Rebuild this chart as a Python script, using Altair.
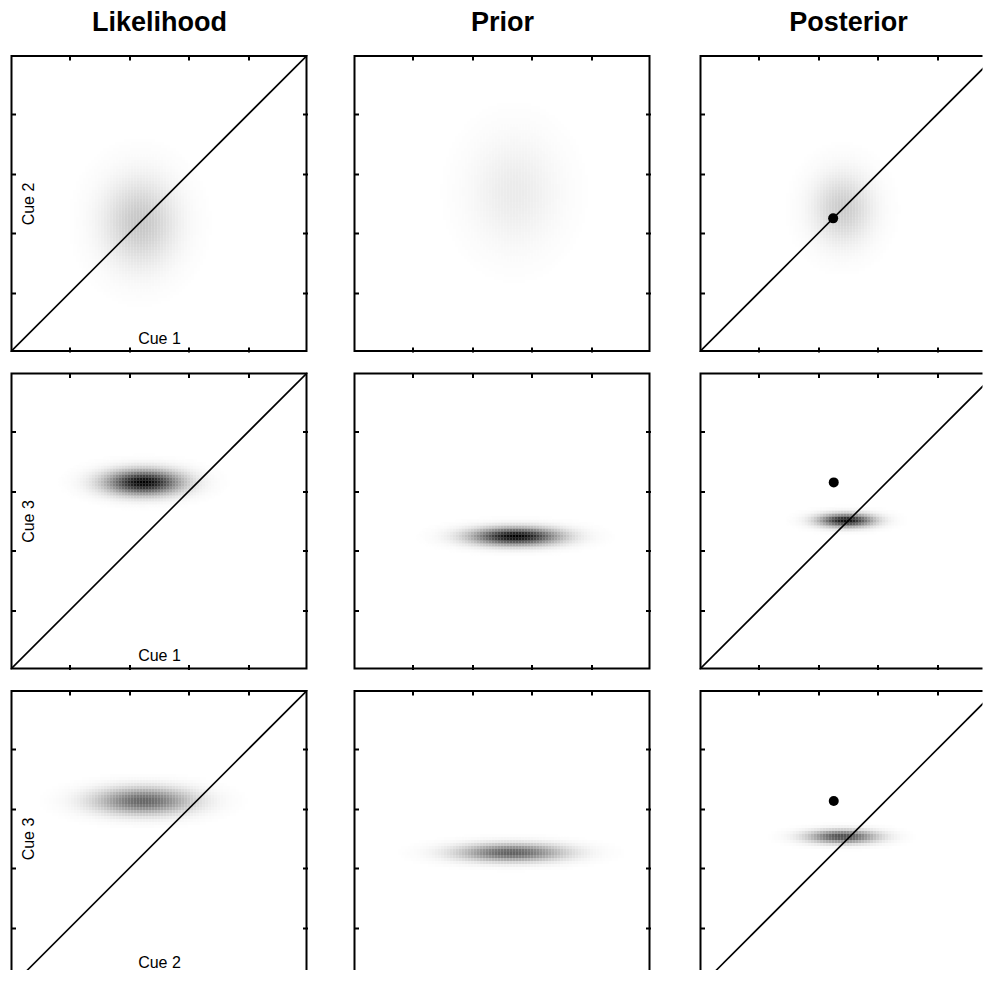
import altair as alt
import numpy as np
import pandas as pd

col_titles = ["Likelihood", "Prior", "Posterior"]
x_titles = ["Cue 1", "Cue 1", "Cue 2"]
y_titles = ["Cue 2", "Cue 3", "Cue 3"]
tick_values = [1, 2, 3, 4]

# Gaussian blob parameters, one entry per panel (row-major: row 0..2, col 0..2)
blob_mx = [2.18, 2.71, 2.41, 2.24, 2.73, 2.47, 2.24, 2.66, 2.41]
blob_my = [2.18, 2.69, 2.41, 3.15, 2.24, 2.51, 3.13, 2.26, 2.53]
blob_sx = [0.42, 0.50, 0.34, 0.43, 0.50, 0.31, 0.55, 0.60, 0.39]
blob_sy = [0.50, 0.62, 0.40, 0.14, 0.10, 0.075, 0.15, 0.10, 0.075]
blob_peak = [0.22, 0.08, 0.20, 1.0, 1.0, 0.95, 0.6, 0.62, 0.7]

# Markers in the posterior panels (one per row)
dot_x = [2.25, 2.26, 2.26]
dot_y = [2.25, 3.15, 3.13]

# Identity diagonal and panel frame
diag_x = [0, 5]
diag_y = [0, 5]
frame_lo = [0]
frame_hi = [5]

STEP = 5 / 99
grid = np.arange(0, 99) * STEP
GX, GY = np.meshgrid(grid, grid)
frames = []
for i in range(9):
    cx, cy = GX + STEP / 2, GY + STEP / 2
    v = blob_peak[i] * np.exp(-0.5 * (((cx - blob_mx[i]) / blob_sx[i]) ** 2 + ((cy - blob_my[i]) / blob_sy[i]) ** 2))
    m = v > 0.004
    frames.append(pd.DataFrame({
        "panel": i,
        "x": GX[m], "x2": GX[m] + STEP * 1.06,
        "y": GY[m], "y2": GY[m] + STEP * 1.06,
        "v": v[m],
    }))
heat = pd.concat(frames, ignore_index=True)
diag_df = pd.DataFrame({"x": diag_x, "y": diag_y})
dots_df = pd.DataFrame({"x": dot_x, "y": dot_y, "row": [0, 1, 2]})
frame_df = pd.DataFrame({"x": frame_lo, "x2": frame_hi, "y": frame_lo, "y2": frame_hi})

FONT = "Liberation Sans"
W = 297
W_LAST = 283   # last column is cut by the page edge
H_LAST = 280   # last row is cut by the page edge
cscale = alt.Scale(domain=[0, 1], range=["#ffffff", "#000000"], clamp=True, interpolate="rgb")
tick_style = dict(labels=False, domain=False, grid=False, ticks=True, tickSize=5,
                  tickWidth=2, tickColor="black", offset=-5, values=tick_values)
lab_style = dict(titleFont=FONT, titleFontSize=16, titleFontWeight="normal",
                 titleBaseline="alphabetic", titleColor="black")


def panel(r, c):
    sub = heat[heat.panel == r * 3 + c]
    pw = W_LAST if c == 2 else W
    ph = H_LAST if r == 2 else W
    xs = alt.Scale(domain=[0, 5 * pw / W], nice=False, zero=False)
    ys = alt.Scale(domain=[5 - 5 * ph / W, 5], nice=False, zero=False)
    if c == 0:
        yl = alt.Axis(orient="left", title=y_titles[r], titleX=18, titleY=W / 2,
                      titleAngle=270, **lab_style, **tick_style)
    else:
        yl = alt.Axis(orient="left", title=None, **tick_style)
    if r < 2:
        xb = alt.Axis(orient="bottom", title=x_titles[r] if c == 0 else None, titleY=-4,
                      **lab_style, **tick_style)
    else:
        xb = alt.Axis(orient="bottom", title=x_titles[r] if c == 0 else None,
                      titleY=2, **lab_style, **dict(tick_style, ticks=False))
    if r == 0:
        xt = alt.Axis(orient="top", title=col_titles[c], titleFont=FONT, titleFontSize=27,
                      titleFontWeight="bold", titleColor="black", titleBaseline="alphabetic",
                      titleX=W / 2, titleY=-29.5, titleAlign="center", **tick_style)
    else:
        xt = alt.Axis(orient="top", title=None, **tick_style)
    yr = alt.Axis(orient="right", title=None, **tick_style) if c < 2 else None

    heat_layer = alt.Chart(sub).mark_rect(clip=True, strokeWidth=0).encode(
        x=alt.X("x:Q", scale=xs, axis=xb), x2="x2:Q",
        y=alt.Y("y:Q", scale=ys, axis=yl), y2="y2:Q",
        color=alt.Color("v:Q", scale=cscale, legend=None),
    )
    line_layer = alt.Chart(diag_df).mark_line(
        clip=True, color="black", strokeWidth=1.6, opacity=0 if c == 1 else 1
    ).encode(
        x=alt.X("x:Q", scale=xs, axis=xt),
        y=alt.Y("y:Q", scale=ys, axis=yr),
    )
    frame_layer = alt.Chart(frame_df).mark_rect(
        filled=False, stroke="black", strokeWidth=4, clip=True
    ).encode(
        x=alt.X("x:Q", scale=xs, axis=None), x2="x2:Q",
        y=alt.Y("y:Q", scale=ys, axis=None), y2="y2:Q",
    )
    layers = [heat_layer, line_layer, frame_layer]
    if c == 2:
        dot_layer = alt.Chart(dots_df[dots_df.row == r]).mark_circle(
            size=100, color="black", opacity=1
        ).encode(
            x=alt.X("x:Q", scale=xs, axis=None),
            y=alt.Y("y:Q", scale=ys, axis=None),
        )
        layers.append(dot_layer)
    ch = alt.layer(*layers).resolve_axis(x="independent", y="independent")
    return ch.properties(width=pw, height=ph)


rows = [
    alt.hconcat(alt.hconcat(panel(r, 0), panel(r, 1), spacing=44), panel(r, 2), spacing=47)
    for r in range(3)
]
chart = alt.vconcat(*rows, spacing=18.5).properties(
    padding={"left": 1.5, "top": 0, "right": 0, "bottom": 0},
    background="white",
).configure_view(stroke=None, strokeWidth=0)

chart.save("out.html", embed_options={"renderer": "svg", "actions": False})
